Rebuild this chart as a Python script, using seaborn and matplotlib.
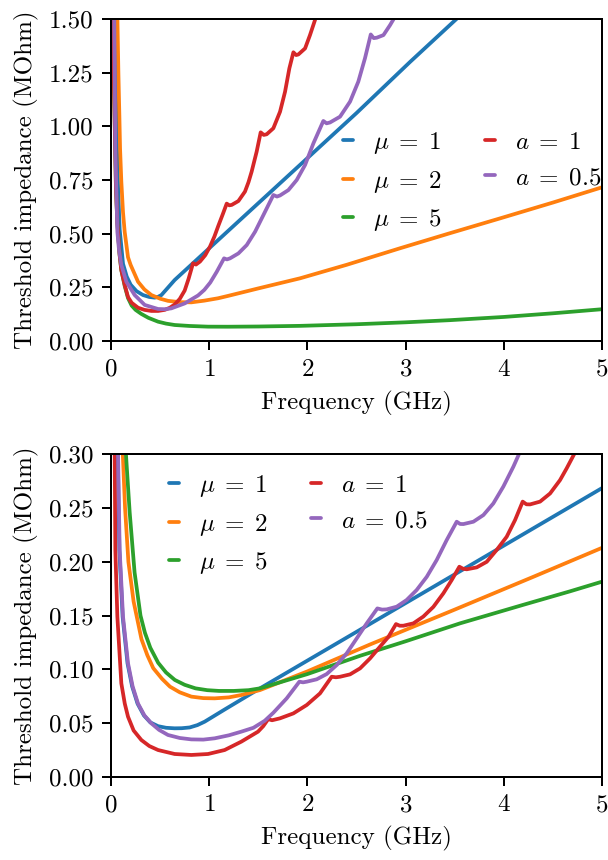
import matplotlib
matplotlib.use("Agg")
import matplotlib.pyplot as plt
import seaborn as sns
from matplotlib.ticker import FormatStrFormatter, MultipleLocator

# ---------------- upper panel: 0 - 1.5 MOhm ----------------
top_mu1_f = [0.038, 0.05, 0.065, 0.088, 0.122, 0.16, 0.2, 0.26, 0.326, 0.39, 0.445,
             0.48, 0.513, 0.648, 1.0, 1.5, 2.0, 2.5, 3.045, 3.6]
top_mu1_z = [1.56, 1.15, 0.8, 0.52, 0.36, 0.3, 0.262, 0.232, 0.214, 0.205, 0.202,
             0.206, 0.214, 0.284, 0.432, 0.642, 0.852, 1.062, 1.30, 1.535]

top_mu2_f = [0.062, 0.0645, 0.075, 0.085, 0.092, 0.105, 0.122, 0.139, 0.173, 0.2,
             0.275, 0.34, 0.411, 0.5, 0.58, 0.7, 0.818, 0.95, 1.09, 1.191, 1.5,
             1.925, 2.4, 2.943, 3.45, 3.96, 4.5, 5.0]
top_mu2_z = [1.56, 1.518, 1.25, 1.05, 0.897, 0.742, 0.6, 0.509, 0.39, 0.354, 0.276,
             0.24, 0.214, 0.197, 0.187, 0.181, 0.18, 0.188, 0.199, 0.21, 0.245,
             0.292, 0.355, 0.432, 0.502, 0.571, 0.645, 0.716]

top_mu5_f = [0.024, 0.03, 0.041, 0.05, 0.0645, 0.088, 0.105, 0.14, 0.173, 0.21, 0.25,
             0.309, 0.38, 0.479, 0.56, 0.648, 0.8, 0.988, 1.19, 1.5, 1.925, 2.5,
             3.0, 3.45, 4.0, 4.5, 5.0]
top_mu5_z = [1.56, 1.2, 0.936, 0.72, 0.55, 0.40, 0.33, 0.255, 0.2, 0.165, 0.145,
             0.126, 0.108, 0.09, 0.081, 0.0745, 0.07, 0.0668, 0.0665, 0.0675, 0.0705,
             0.078, 0.087, 0.097, 0.112, 0.129, 0.148]

top_a1_f = [0.024, 0.03, 0.041, 0.05, 0.0645, 0.088, 0.105, 0.14, 0.173, 0.21, 0.275,
            0.34, 0.411, 0.48, 0.547, 0.6, 0.648, 0.70, 0.75, 0.79, 0.835, 0.865,
            0.906, 0.96, 1.008, 1.053, 1.093, 1.14, 1.178, 1.205, 1.229, 1.297,
            1.364, 1.40, 1.432, 1.483, 1.524, 1.555, 1.585, 1.653, 1.721, 1.772,
            1.816, 1.857, 1.885, 1.908, 1.976, 2.026, 2.077, 2.10]
top_a1_z = [1.56, 1.2, 0.936, 0.72, 0.55, 0.40, 0.33, 0.26, 0.205, 0.178, 0.155,
            0.145, 0.14, 0.14, 0.145, 0.155, 0.17, 0.196, 0.235, 0.29, 0.362, 0.356,
            0.37, 0.40, 0.44, 0.487, 0.537, 0.593, 0.640, 0.632, 0.634, 0.652,
            0.696, 0.74, 0.789, 0.882, 0.972, 0.96, 0.963, 0.991, 1.068, 1.161,
            1.270, 1.345, 1.332, 1.335, 1.363, 1.425, 1.495, 1.55]

top_a05_f = [0.032, 0.037, 0.044, 0.0645, 0.08, 0.105, 0.156, 0.241, 0.343, 0.479,
             0.55, 0.614, 0.75, 0.886, 0.95, 1.01, 1.076, 1.151, 1.18, 1.212, 1.297,
             1.382, 1.467, 1.552, 1.653, 1.69, 1.721, 1.806, 1.891, 1.976, 2.061,
             2.162, 2.195, 2.230, 2.332, 2.434, 2.518, 2.586, 2.645, 2.675, 2.706,
             2.774, 2.842, 2.892, 2.92]
top_a05_z = [1.56, 1.3, 0.897, 0.509, 0.43, 0.354, 0.276, 0.214, 0.168, 0.149,
             0.148, 0.152, 0.175, 0.212, 0.238, 0.272, 0.322, 0.385, 0.38, 0.385,
             0.408, 0.447, 0.509, 0.587, 0.680, 0.673, 0.678, 0.703, 0.750, 0.820,
             0.921, 1.025, 1.014, 1.018, 1.045, 1.115, 1.208, 1.317, 1.428, 1.411,
             1.413, 1.425, 1.472, 1.511, 1.55]

# ---------------- lower panel: 0 - 0.3 MOhm ----------------
bot_mu1_f = [0.064, 0.068, 0.085, 0.118, 0.168, 0.215, 0.27, 0.335, 0.40, 0.479,
             0.56, 0.648, 0.72, 0.801, 0.88, 0.954, 1.157, 1.517, 2.5, 3.5, 5.0]
bot_mu1_z = [0.33, 0.304, 0.211, 0.149, 0.1055, 0.084, 0.068, 0.057, 0.0505, 0.047,
             0.0455, 0.045, 0.0451, 0.0458, 0.048, 0.0512, 0.0625, 0.0822, 0.1348,
             0.1883, 0.2686]

bot_mu2_f = [0.115, 0.12, 0.143, 0.177, 0.23, 0.31, 0.37, 0.43, 0.52, 0.6, 0.7,
             0.818, 0.94, 1.056, 1.2, 1.327, 1.517, 2.0, 2.637, 3.5, 4.3, 5.0]
bot_mu2_z = [0.33, 0.30, 0.25, 0.2, 0.163, 0.128, 0.113, 0.101, 0.091, 0.0838,
             0.0785, 0.0745, 0.0731, 0.0729, 0.0738, 0.076, 0.0806, 0.098, 0.123,
             0.1555, 0.186, 0.213]

bot_mu5_f = [0.145, 0.152, 0.19, 0.24, 0.30, 0.345, 0.40, 0.48, 0.56, 0.65, 0.75,
             0.86, 0.98, 1.1, 1.25, 1.4, 1.517, 2.0, 2.536, 3.0, 3.554, 4.2, 4.674,
             5.0]
bot_mu5_z = [0.33, 0.30, 0.246, 0.19, 0.15, 0.134, 0.12, 0.106, 0.097, 0.09, 0.0855,
             0.0822, 0.0805, 0.0798, 0.0798, 0.0805, 0.0822, 0.0955, 0.1125, 0.126,
             0.1427, 0.16, 0.1725, 0.1815]

bot_a1_f = [0.035, 0.037, 0.044, 0.0645, 0.105, 0.14, 0.173, 0.23, 0.309, 0.39,
            0.479, 0.648, 0.818, 0.988, 1.157, 1.327, 1.497, 1.55, 1.60, 1.64,
            1.721, 1.857, 1.993, 2.128, 2.247, 2.29, 2.332, 2.434, 2.536, 2.637,
            2.739, 2.824, 2.902, 2.94, 2.977, 3.079, 3.18, 3.282, 3.384, 3.469,
            3.547, 3.585, 3.622, 3.724, 3.826, 3.927, 4.029, 4.114, 4.192, 4.23,
            4.267, 4.369, 4.471, 4.572, 4.64, 4.715, 4.74]
bot_a1_z = [0.33, 0.304, 0.211, 0.149, 0.0868, 0.068, 0.0558, 0.043, 0.0341,
            0.0285, 0.0248, 0.0211, 0.0202, 0.0211, 0.0248, 0.0326, 0.0419, 0.047,
            0.0535, 0.0525, 0.0543, 0.0589, 0.0667, 0.0775, 0.093, 0.0925, 0.093,
            0.0952, 0.1008, 0.110, 0.121, 0.130, 0.142, 0.1405, 0.1405, 0.1427,
            0.149, 0.158, 0.1706, 0.183, 0.1954, 0.1935, 0.193, 0.1948, 0.200,
            0.211, 0.2233, 0.2388, 0.256, 0.2535, 0.2534, 0.256, 0.2636, 0.276,
            0.287, 0.30, 0.31]

bot_a05_f = [0.069, 0.071, 0.088, 0.122, 0.173, 0.22, 0.275, 0.34, 0.411, 0.49, 0.58,
             0.7, 0.818, 0.94, 1.056, 1.2, 1.327, 1.45, 1.565, 1.653, 1.789, 1.918,
             1.955, 1.993, 2.094, 2.196, 2.298, 2.40, 2.502, 2.604, 2.712, 2.76,
             2.807, 2.909, 3.01, 3.112, 3.215, 3.316, 3.418, 3.52, 3.555, 3.588,
             3.69, 3.792, 3.893, 3.995, 4.097, 4.165, 4.18]
bot_a05_z = [0.33, 0.304, 0.211, 0.149, 0.1055, 0.084, 0.068, 0.057, 0.0496, 0.0435,
             0.0388, 0.036, 0.0347, 0.0345, 0.0357, 0.0385, 0.0419, 0.0455, 0.052,
             0.0595, 0.0729, 0.0884, 0.0878, 0.0884, 0.0906, 0.0955, 0.1039, 0.1148,
             0.1287, 0.1427, 0.1566, 0.1555, 0.1557, 0.1582, 0.1644, 0.1737, 0.186,
             0.2016, 0.2202, 0.2373, 0.2352, 0.2351, 0.2373, 0.2435, 0.2543, 0.270,
             0.2885, 0.3024, 0.31]

labels = [r"$\mu\;=\;1$", r"$\mu\;=\;2$", r"$\mu\;=\;5$", r"$a\;=\;1$", r"$a\;=\;0.5$"]
colors = ["#1f77b4", "#ff7f0e", "#2ca02c", "#d62728", "#9467bd"]

sns.set_style("ticks")
plt.rcParams.update({
    "font.family": ["cmr10", "DejaVu Serif"],
    "mathtext.fontset": "cm",
    "axes.formatter.use_mathtext": True,
    "font.size": 10,
    "axes.labelsize": 10,
    "xtick.labelsize": 10,
    "ytick.labelsize": 10,
    "legend.fontsize": 10,
    "axes.linewidth": 0.8,
    "axes.edgecolor": "black",
    "axes.labelcolor": "black",
    "text.color": "black",
    "xtick.color": "black",
    "ytick.color": "black",
    "xtick.major.size": 3.5,
    "ytick.major.size": 3.5,
    "xtick.major.width": 0.8,
    "ytick.major.width": 0.8,
    "xtick.major.pad": 3.5,
    "ytick.major.pad": 3.5,
})

fig = plt.figure(figsize=(608 / 180, 860 / 180), dpi=180)
ax_top = fig.add_axes([0.1826, 0.6035, 0.8076, 0.3744])
ax_bot = fig.add_axes([0.1826, 0.0969, 0.8076, 0.3748])

top_series = [(top_mu1_f, top_mu1_z), (top_mu2_f, top_mu2_z), (top_mu5_f, top_mu5_z),
              (top_a1_f, top_a1_z), (top_a05_f, top_a05_z)]
bot_series = [(bot_mu1_f, bot_mu1_z), (bot_mu2_f, bot_mu2_z), (bot_mu5_f, bot_mu5_z),
              (bot_a1_f, bot_a1_z), (bot_a05_f, bot_a05_z)]


def draw_panel(ax, series, ymax, ystep, legend_anchor):
    for (f, z), lab, col in zip(series, labels, colors):
        sns.lineplot(x=f, y=z, ax=ax, color=col, linewidth=1.5, label=lab,
                     errorbar=None, estimator=None)
    ax.set_xlim(0, 5)
    ax.set_ylim(0, ymax)
    ax.xaxis.set_major_locator(MultipleLocator(1))
    ax.yaxis.set_major_locator(MultipleLocator(ystep))
    ax.yaxis.set_major_formatter(FormatStrFormatter("%.2f"))
    ax.set_xlabel("Frequency (GHz)")
    ax.set_ylabel("Threshold impedance (MOhm)")
    ax.legend(ncol=2, frameon=False, handlelength=0.4, handletextpad=0.8,
              columnspacing=1.75, borderpad=0, borderaxespad=0,
              loc="upper left", bbox_to_anchor=legend_anchor)


draw_panel(ax_top, top_series, 1.5, 0.25, (0.4725, 0.655))
draw_panel(ax_bot, bot_series, 0.3, 0.05, (0.118, 0.942))

fig.savefig("out.png", dpi=180)
